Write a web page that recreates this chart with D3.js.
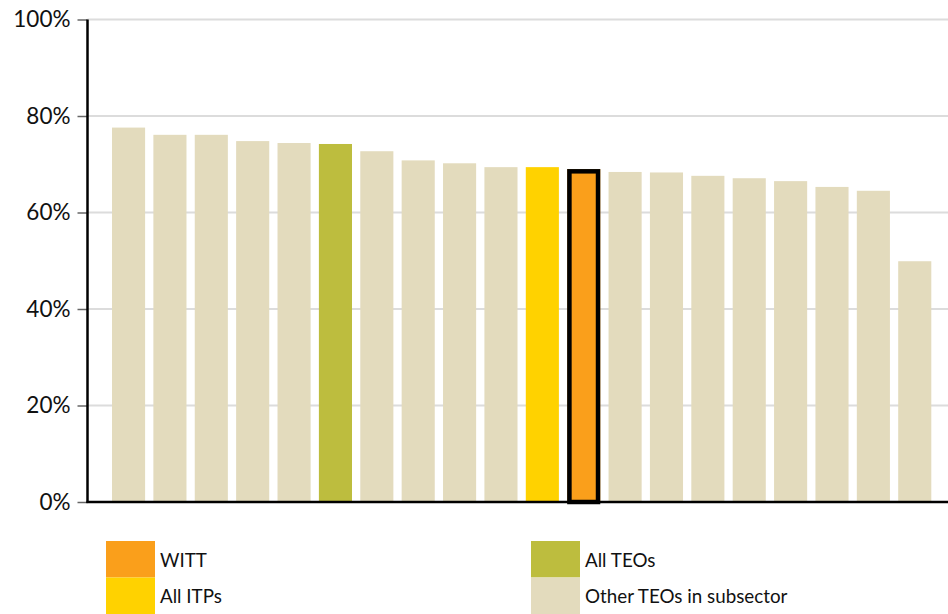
<!DOCTYPE html>
<html>
<head>
<meta charset="utf-8">
<script src="https://cdn.jsdelivr.net/npm/d3@7"></script>
<style>
  html, body { margin: 0; padding: 0; background: #fff; }
  svg { display: block; font-family: Lato, "Open Sans", sans-serif; }
</style>
</head>
<body>
<svg id="chart" width="948" height="614"></svg>
<script>
// Share of each organisation, sorted high to low
const organisations = ["T1","T2","T3","T4","T5","All TEOs","T7","T8","T9","T10","All ITPs","WITT","T13","T14","T15","T16","T17","T18","T19","T20"];
const shares = [77.6, 76.1, 76.1, 74.8, 74.4, 74.2, 72.7, 70.8, 70.2, 69.4, 69.4, 69.0, 68.4, 68.3, 67.6, 67.1, 66.5, 65.3, 64.5, 49.9];
const groups = ["other","other","other","other","other","teo","other","other","other","other","itp","witt","other","other","other","other","other","other","other","other"];
const yTicks = [0, 20, 40, 60, 80, 100];

const legendItems = [
  { key: "witt", label: "WITT" },
  { key: "itp", label: "All ITPs" },
  { key: "teo", label: "All TEOs" },
  { key: "other", label: "Other TEOs in subsector" }
];

const colour = d3.scaleOrdinal()
  .domain(["witt", "itp", "teo", "other"])
  .range(["#FA9F1B", "#FFD200", "#BDBD3E", "#E3DBBD"]);

const svg = d3.select("#chart");

const x = d3.scaleBand()
  .domain(organisations)
  .range([112, 931.3])
  .paddingInner(0.2)
  .paddingOuter(0);

const y = d3.scaleLinear().domain([0, 100]).range([502, 19.5]);

const axisLeftX = 87.5;
const plotRight = 948;

// Gridlines
svg.append("g")
  .selectAll("line")
  .data(yTicks.filter(t => t > 0))
  .join("line")
  .attr("x1", axisLeftX)
  .attr("x2", plotRight)
  .attr("y1", d => y(d))
  .attr("y2", d => y(d))
  .attr("stroke", "#DCDCDC")
  .attr("stroke-width", 2);

// Bars
const data = organisations.map((o, i) => ({ name: o, value: shares[i], group: groups[i] }));
svg.append("g")
  .selectAll("rect")
  .data(data)
  .join("rect")
  .attr("x", d => x(d.name))
  .attr("y", d => y(d.value))
  .attr("width", x.bandwidth())
  .attr("height", d => y(0) - y(d.value))
  .attr("fill", d => colour(d.group));

// Highlight outline for WITT
const witt = data.find(d => d.group === "witt");
svg.append("rect")
  .attr("x", x(witt.name) + 2.25)
  .attr("y", y(witt.value) + 2.25)
  .attr("width", x.bandwidth() - 4.5)
  .attr("height", y(0) - y(witt.value) - 2.25)
  .attr("fill", "none")
  .attr("stroke", "#000")
  .attr("stroke-width", 4.5);

// Y axis
const yAxis = d3.axisLeft(y)
  .tickValues(yTicks)
  .tickFormat(d => d + "%")
  .tickSize(10)
  .tickPadding(7);

const gy = svg.append("g")
  .attr("transform", `translate(${axisLeftX},0)`)
  .call(yAxis);
gy.select(".domain").remove();
gy.selectAll(".tick line").attr("stroke", "#666").attr("stroke-width", 1.5);
gy.selectAll(".tick text")
  .attr("fill", "#111")
  .style("font-size", "22.5px")
  .style("font-family", "Lato, 'Open Sans', sans-serif");

// Axis lines
svg.append("line")
  .attr("x1", axisLeftX).attr("x2", axisLeftX)
  .attr("y1", y(100)).attr("y2", y(0) + 1)
  .attr("stroke", "#000").attr("stroke-width", 2.5);
svg.append("line")
  .attr("x1", axisLeftX - 1).attr("x2", plotRight)
  .attr("y1", y(0)).attr("y2", y(0))
  .attr("stroke", "#000").attr("stroke-width", 2.5);

// Legend: two columns, two rows
const legendCols = [106, 531];
const legendRows = [541, 577.5];
const legend = svg.append("g")
  .selectAll("g")
  .data(legendItems)
  .join("g")
  .attr("transform", (d, i) => `translate(${legendCols[Math.floor(i / 2)]},${legendRows[i % 2]})`);

legend.append("rect")
  .attr("width", 49)
  .attr("height", 36.5)
  .attr("fill", d => colour(d.key));

legend.append("text")
  .attr("x", 54)
  .attr("y", 25.5)
  .attr("fill", "#111")
  .style("font-size", "18.8px")
  .text(d => d.label);
</script>
</body>
</html>
